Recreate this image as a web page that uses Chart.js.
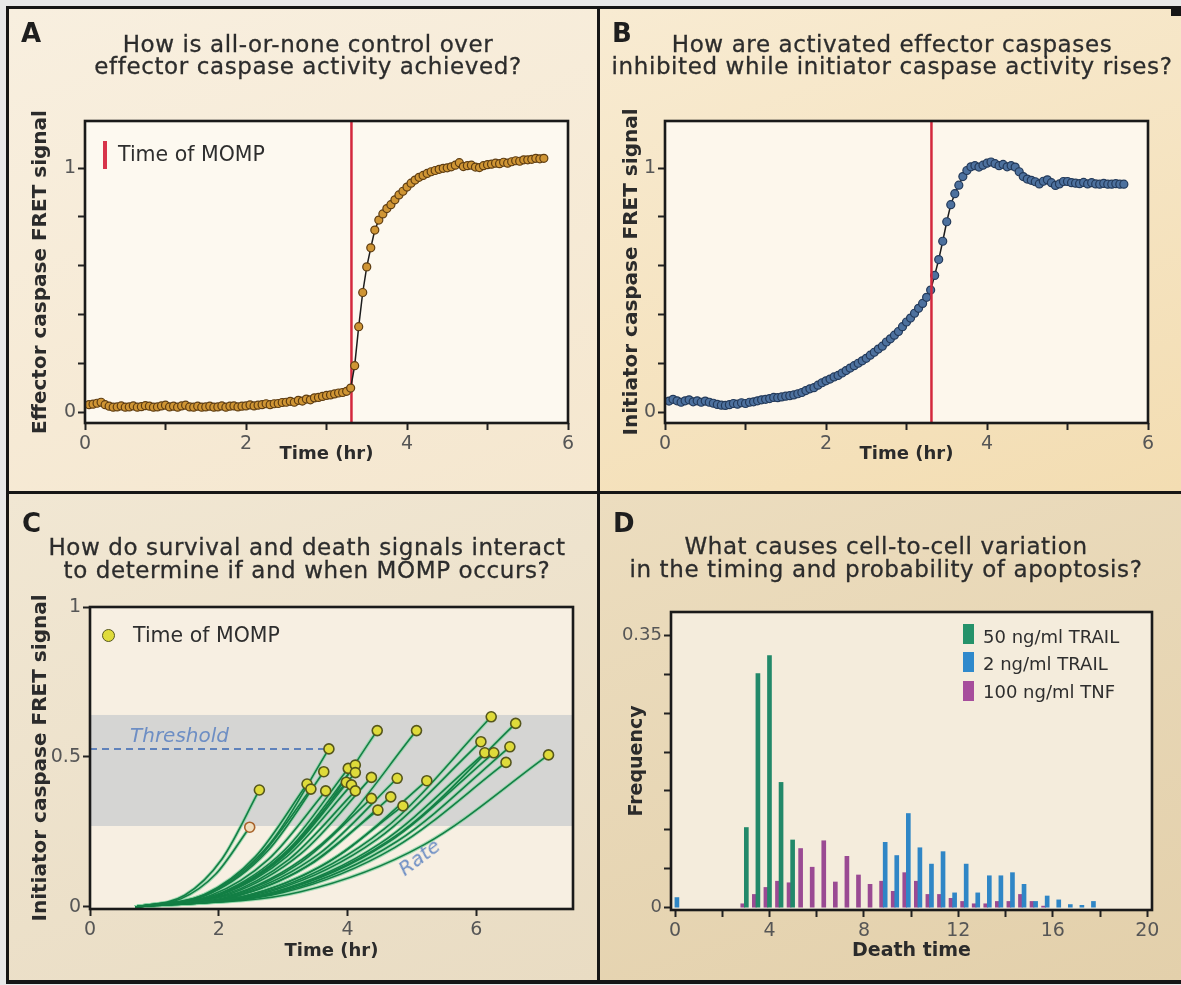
<!DOCTYPE html>
<html>
<head>
<meta charset="utf-8">
<title>Caspase activity and apoptosis timing</title>
<script src="https://cdn.jsdelivr.net/npm/chart.js@4.4.1/dist/chart.umd.min.js"></script>
<style>
  html, body { margin:0; padding:0; }
  body { width:1181px; height:985px; position:relative; overflow:hidden; background:#e8e8e8; font-family:"DejaVu Sans", sans-serif; }
  .abs { position:absolute; }
  canvas { position:absolute; }
  .letter { position:absolute; font-weight:bold; font-size:26px; line-height:26px; color:#1e1e1e; }
  .qtitle { position:absolute; transform:translateX(-50%); text-align:center; white-space:nowrap; font-size:23px; line-height:22.5px; letter-spacing:0.6px; color:#2c2c2c; -webkit-text-stroke:0.3px #2c2c2c; }
  .legtxt { position:absolute; white-space:nowrap; font-size:20.5px; line-height:24px; color:#2e2e2e; }
  .legD { position:absolute; white-space:nowrap; font-size:18px; line-height:22px; color:#2e2e2e; }
  .note { position:absolute; white-space:nowrap; font-style:italic; font-size:20px; line-height:24px; color:#6d8ec4; }
</style>
</head>
<body>
<!-- frame and panel backgrounds -->
<div class="abs" style="left:6px;top:6px;width:1181px;height:978px;background:#161616"></div>
<div class="abs" style="left:9px;top:9px;width:588px;height:482px;background:linear-gradient(160deg,#f8efdf 0%,#f5e7cf 100%)"></div>
<div class="abs" style="left:600px;top:9px;width:581px;height:482px;background:linear-gradient(160deg,#f8ebd2 0%,#f3ddb2 100%)"></div>
<div class="abs" style="left:9px;top:494px;width:588px;height:486px;background:linear-gradient(160deg,#f1e7d3 0%,#e9dcc3 100%)"></div>
<div class="abs" style="left:600px;top:494px;width:581px;height:486px;background:linear-gradient(160deg,#ecddbf 0%,#e3d0ab 100%)"></div>
<div class="abs" style="left:1171px;top:6px;width:10px;height:10px;background:#161616"></div>

<canvas id="cA" width="598" height="492" style="left:0;top:0;width:598px;height:492px"></canvas>
<canvas id="cB" width="583" height="492" style="left:598px;top:0;width:583px;height:492px"></canvas>
<canvas id="cC" width="598" height="493" style="left:0;top:492px;width:598px;height:493px"></canvas>
<canvas id="cD" width="583" height="493" style="left:598px;top:492px;width:583px;height:493px"></canvas>

<!-- panel letters and questions -->
<div class="letter" style="left:21px;top:20px">A</div>
<div class="qtitle" style="left:308px;top:32.5px">How is all-or-none control over<br>effector caspase activity achieved?</div>
<div class="letter" style="left:612px;top:20px">B</div>
<div class="qtitle" style="left:892px;top:32.5px">How are activated effector caspases<br>inhibited while initiator caspase activity rises?</div>
<div class="letter" style="left:22px;top:510px">C</div>
<div class="qtitle" style="left:307px;top:536px">How do survival and death signals interact<br>to determine if and when MOMP occurs?</div>
<div class="letter" style="left:613px;top:510px">D</div>
<div class="qtitle" style="left:886px;top:535px">What causes cell-to-cell variation<br>in the timing and probability of apoptosis?</div>

<!-- legends / notes -->
<div class="abs" style="left:102.5px;top:140.5px;width:4.5px;height:28px;background:#d8344a"></div>
<div class="legtxt" style="left:118px;top:141.5px">Time of MOMP</div>

<div class="abs" style="left:101.8px;top:628.5px;width:13px;height:13px;box-sizing:border-box;border:1.6px solid #55561c;border-radius:50%;background:#dfdb3a"></div>
<div class="legtxt" style="left:133px;top:623.4px">Time of MOMP</div>
<div class="note" style="left:130px;top:723.4px">Threshold</div>
<div class="note" style="left:419px;top:857px;transform:translate(-50%,-50%) rotate(-37deg)">Rate</div>

<div class="abs" style="left:963px;top:623.5px;width:11px;height:20px;background:#25926a"></div>
<div class="legD" style="left:983px;top:626px">50 ng/ml TRAIL</div>
<div class="abs" style="left:963px;top:652px;width:11px;height:20px;background:#2f89cc"></div>
<div class="legD" style="left:983px;top:652.6px">2 ng/ml TRAIL</div>
<div class="abs" style="left:963px;top:680.5px;width:11px;height:20px;background:#a64d9c"></div>
<div class="legD" style="left:983px;top:681px">100 ng/ml TNF</div>

<script>
// ---------------- data ----------------
const timeHr = [
  0.05,0.10,0.15,0.20,0.25,0.30,0.35,0.40,0.45,0.50,
  0.55,0.60,0.65,0.70,0.75,0.80,0.85,0.90,0.95,1.00,
  1.05,1.10,1.15,1.20,1.25,1.30,1.35,1.40,1.45,1.50,
  1.55,1.60,1.65,1.70,1.75,1.80,1.85,1.90,1.95,2.00,
  2.05,2.10,2.15,2.20,2.25,2.30,2.35,2.40,2.45,2.50,
  2.55,2.60,2.65,2.70,2.75,2.80,2.85,2.90,2.95,3.00,
  3.05,3.10,3.15,3.20,3.25,3.30,3.35,3.40,3.45,3.50,
  3.55,3.60,3.65,3.70,3.75,3.80,3.85,3.90,3.95,4.00,
  4.05,4.10,4.15,4.20,4.25,4.30,4.35,4.40,4.45,4.50,
  4.55,4.60,4.65,4.70,4.75,4.80,4.85,4.90,4.95,5.00,
  5.05,5.10,5.15,5.20,5.25,5.30,5.35,5.40,5.45,5.50,
  5.55,5.60,5.65,5.70
];
const effectorFret = [
  0.030,0.032,0.036,0.040,0.030,0.024,0.020,0.021,0.025,0.020,
  0.021,0.025,0.020,0.022,0.026,0.024,0.020,0.021,0.025,0.028,
  0.021,0.024,0.020,0.025,0.028,0.021,0.020,0.024,0.020,0.021,
  0.024,0.020,0.021,0.025,0.020,0.024,0.025,0.021,0.024,0.025,
  0.029,0.025,0.028,0.030,0.034,0.030,0.034,0.035,0.039,0.040,
  0.044,0.040,0.048,0.045,0.053,0.050,0.058,0.060,0.064,0.068,
  0.070,0.074,0.078,0.080,0.085,0.098,0.190,0.350,0.490,0.595,
  0.673,0.746,0.787,0.812,0.834,0.850,0.870,0.890,0.905,0.922,
  0.938,0.951,0.962,0.970,0.978,0.985,0.990,0.995,0.999,1.001,
  1.005,1.012,1.022,1.006,1.010,1.012,1.004,1.002,1.010,1.014,
  1.016,1.020,1.018,1.024,1.020,1.026,1.030,1.028,1.034,1.034,
  1.036,1.040,1.038,1.040
];
const initiatorFret = [
  0.045,0.052,0.046,0.040,0.046,0.050,0.042,0.046,0.040,0.045,
  0.040,0.036,0.031,0.028,0.027,0.030,0.035,0.032,0.038,0.035,
  0.040,0.042,0.046,0.050,0.052,0.055,0.060,0.059,0.062,0.065,
  0.067,0.070,0.075,0.080,0.088,0.095,0.100,0.110,0.120,0.128,
  0.135,0.144,0.150,0.160,0.170,0.180,0.190,0.200,0.210,0.220,
  0.233,0.245,0.258,0.270,0.287,0.300,0.315,0.330,0.350,0.369,
  0.385,0.405,0.425,0.445,0.470,0.500,0.560,0.625,0.700,0.780,
  0.850,0.895,0.930,0.965,0.990,1.005,1.010,1.004,1.012,1.020,
  1.025,1.018,1.010,1.015,1.005,1.010,1.004,0.985,0.965,0.955,
  0.950,0.944,0.935,0.946,0.952,0.940,0.929,0.935,0.945,0.945,
  0.940,0.938,0.936,0.941,0.935,0.940,0.935,0.934,0.937,0.934,
  0.934,0.936,0.934,0.934
];
const mompTimeHr = 3.31;

// panel C: single-cell initiator caspase trajectories (last point = time of MOMP)
const curveTimes = [
  [0.70,1.41,1.95,2.48],[0.70,1.47,2.05,2.63],[0.70,1.90,2.81,3.71],[0.70,1.77,2.57,3.37],
  [0.70,1.79,2.61,3.43],[0.70,1.87,2.75,3.63],[0.70,1.88,2.77,3.66],[0.70,2.20,3.33,4.46],
  [0.70,2.45,3.76,5.07],[0.70,2.02,3.02,4.01],[0.70,2.07,3.09,4.12],[0.70,2.07,3.09,4.12],
  [0.70,2.01,3.00,3.98],[0.70,2.04,3.05,4.06],[0.70,2.07,3.09,4.12],[0.70,2.17,3.27,4.37],
  [0.70,2.33,3.55,4.77],[0.70,2.51,3.87,5.23],[0.70,2.17,3.27,4.37],[0.70,2.29,3.48,4.67],
  [0.70,2.21,3.34,4.47],[0.70,2.36,3.61,4.86],[0.70,2.91,4.57,6.23],[0.70,3.06,4.84,6.61],
  [0.70,2.85,4.46,6.07],[0.70,2.87,4.50,6.13],[0.70,2.93,4.60,6.27],[0.70,3.03,4.77,6.52],
  [0.70,3.00,4.73,6.46],[0.70,3.27,5.19,7.12]
];
const curveSignals = [
  [0,0.027,0.109,0.266],[0,0.039,0.160,0.390],[0,0.053,0.216,0.527],[0,0.041,0.168,0.410],
  [0,0.039,0.161,0.393],[0,0.045,0.185,0.451],[0,0.039,0.159,0.387],[0,0.059,0.241,0.588],
  [0,0.059,0.241,0.588],[0,0.046,0.189,0.462],[0,0.047,0.194,0.473],[0,0.045,0.184,0.448],
  [0,0.042,0.171,0.416],[0,0.041,0.167,0.407],[0,0.039,0.159,0.387],[0,0.043,0.177,0.432],
  [0,0.043,0.176,0.429],[0,0.042,0.173,0.421],[0,0.036,0.148,0.362],[0,0.037,0.150,0.367],
  [0,0.032,0.132,0.323],[0,0.034,0.138,0.337],[0,0.063,0.260,0.634],[0,0.061,0.251,0.612],
  [0,0.055,0.226,0.551],[0,0.051,0.211,0.514],[0,0.051,0.211,0.514],[0,0.053,0.219,0.534],
  [0,0.048,0.198,0.482],[0,0.051,0.208,0.507]
];
const thresholdSignal = 0.527;
const thresholdEndHr = 3.71;
const thresholdBand = [0.27, 0.64];

// panel D: death-time histogram
const deathTimeBins = [0.25,0.74,1.23,1.72,2.21,2.70,3.19,3.68,4.17,4.66,5.15,5.64,6.13,6.62,7.11,7.60,8.09,8.58,9.07,9.56,
  10.05,10.54,11.03,11.52,12.01,12.50,12.99,13.48,13.97,14.46,14.95,15.44,15.93,16.42,16.91,17.40,17.89];
const trail50 = [0,0,0,0,0,0,0.103,0.301,0.324,0.161,0.087,0,0,0,0,0,0,0,0,0,
  0,0,0,0,0,0,0,0,0,0,0,0,0,0,0,0,0];
const trail2 = [0.013,0,0,0,0,0,0,0,0,0,0,0,0,0,0,0,0,0,0.084,0.067,
  0.121,0.077,0.056,0.072,0.019,0.056,0.019,0.041,0.041,0.045,0.030,0.008,0.015,0.010,0.004,0.003,0.008];
const tnf100 = [0,0,0,0,0,0.005,0.017,0.026,0.034,0.032,0.076,0.052,0.086,0.033,0.066,0.042,0.030,0.034,0.021,0.045,
  0.034,0.017,0.017,0.012,0.008,0.005,0.005,0.008,0.008,0.017,0.008,0.002,0,0,0,0,0];

// tick values and labels
const timeTicks = [0,1,2,3,4,5,6], timeTickLabels = [0,2,4,6];
const fretTicks = [0,0.2,0.4,0.6,0.8,1], fretTickLabels = [0,1];
const timeTicksC = [0,2,4,6];
const fretTicksC = [0,0.5,1];
const deathTicks = [0,2,4,6,8,10,12,14,16,18,20], deathTickLabels = [0,4,8,12,16,20];
const freqTicks = [0,0.05,0.1,0.15,0.2,0.25,0.3,0.35], freqTickLabels = [0,0.35];

// ---------------- helpers ----------------
Chart.defaults.font.family = '"DejaVu Sans", sans-serif';

function makeScale(o) {
  return {
    type: 'linear', min: o.min, max: o.max, offset: false, stacked: false,
    afterBuildTicks: ax => { ax.ticks = o.ticks.map(v => ({ value: v })); },
    afterFit: ax => { if (o.axis === 'y') ax.width = o.size; else ax.height = o.size; },
    grid: { display: true, offset: false, drawOnChartArea: false, drawTicks: true, tickLength: 7, tickColor: '#222', tickWidth: 2 },
    border: { display: false },
    ticks: {
      autoSkip: false, maxRotation: 0, padding: o.axis === 'y' ? 2 : 3, color: '#565656',
      font: { size: o.tickSize || 19 },
      callback: v => (o.labels.includes(v) ? String(v) : '')
    },
    title: { display: true, text: o.title, color: '#2b2b2b',
      font: { size: o.titleSize, weight: 'bold' }, padding: { top: 4, bottom: 4 } }
  };
}

const plotFrame = {
  id: 'plotFrame',
  beforeDraw(chart, args, opts) {
    const { ctx, chartArea: a } = chart;
    ctx.save(); ctx.fillStyle = opts.fill;
    ctx.fillRect(a.left, a.top, a.right - a.left, a.bottom - a.top); ctx.restore();
  },
  afterDraw(chart, args, opts) {
    const { ctx, chartArea: a } = chart;
    ctx.save(); ctx.strokeStyle = '#1a1a1a'; ctx.lineWidth = 2.6;
    ctx.strokeRect(a.left, a.top, a.right - a.left, a.bottom - a.top); ctx.restore();
  }
};

function drawMomp(chart, opts) {
  const { ctx, chartArea: a, scales: { x } } = chart;
  const px = x.getPixelForValue(opts.time);
  ctx.save(); ctx.strokeStyle = '#d3283d'; ctx.lineWidth = 2.5;
  ctx.beginPath(); ctx.moveTo(px, a.top); ctx.lineTo(px, a.bottom); ctx.stroke(); ctx.restore();
}
const mompLine = {
  id: 'mompLine',
  beforeDatasetsDraw(chart, args, opts) { if (opts.under) drawMomp(chart, opts); },
  afterDatasetsDraw(chart, args, opts) { if (!opts.under) drawMomp(chart, opts); }
};

const thresholdMarks = {
  id: 'thresholdMarks',
  beforeDatasetsDraw(chart) {
    const { ctx, chartArea: a, scales: { x, y } } = chart;
    const y1 = y.getPixelForValue(thresholdBand[1]), y0 = y.getPixelForValue(thresholdBand[0]);
    ctx.save();
    ctx.fillStyle = 'rgba(186,192,198,0.55)';
    ctx.fillRect(a.left, y1, a.right - a.left, y0 - y1);
    const ty = y.getPixelForValue(thresholdSignal);
    ctx.strokeStyle = '#5f82bb'; ctx.lineWidth = 2; ctx.setLineDash([7, 5]);
    ctx.beginPath(); ctx.moveTo(a.left, ty); ctx.lineTo(x.getPixelForValue(thresholdEndHr), ty); ctx.stroke();
    ctx.restore();
  }
};

const common = pad => ({
  responsive: false, animation: false, devicePixelRatio: 1, events: [],
  layout: { padding: pad }
});

// ---------------- panel A ----------------
new Chart(document.getElementById('cA'), {
  type: 'line',
  data: { datasets: [{
    data: timeHr.map((t, i) => ({ x: t, y: effectorFret[i] })),
    borderColor: '#1c1c1c', borderWidth: 1.5, tension: 0,
    pointRadius: 4, pointBorderWidth: 1.2, pointBackgroundColor: '#cf9534', pointBorderColor: '#5e3d12'
  }]},
  options: Object.assign(common({ top: 121, left: 25, right: 30, bottom: 23 }), {
    plugins: { legend: { display: false }, tooltip: { enabled: false },
      plotFrame: { fill: '#fdf9f0' }, mompLine: { time: mompTimeHr, under: true } },
    scales: {
      x: makeScale({ axis: 'x', min: 0, max: 6, ticks: timeTicks, labels: timeTickLabels, title: 'Time (hr)', titleSize: 18, size: 46 }),
      y: makeScale({ axis: 'y', min: -0.045, max: 1.193, ticks: fretTicks, labels: fretTickLabels, title: 'Effector caspase FRET signal', titleSize: 20, size: 60 })
    }
  }),
  plugins: [plotFrame, mompLine]
});

// ---------------- panel B ----------------
new Chart(document.getElementById('cB'), {
  type: 'line',
  data: { datasets: [{
    data: timeHr.map((t, i) => ({ x: t, y: initiatorFret[i] })),
    borderColor: '#1c1c1c', borderWidth: 1.5, tension: 0,
    pointRadius: 4, pointBorderWidth: 1.2, pointBackgroundColor: '#4d719e', pointBorderColor: '#233a5a'
  }]},
  options: Object.assign(common({ top: 121, left: 18, right: 33, bottom: 23 }), {
    plugins: { legend: { display: false }, tooltip: { enabled: false },
      plotFrame: { fill: '#fdf7ec' }, mompLine: { time: mompTimeHr, under: false } },
    scales: {
      x: makeScale({ axis: 'x', min: 0, max: 6, ticks: timeTicks, labels: timeTickLabels, title: 'Time (hr)', titleSize: 18, size: 46 }),
      y: makeScale({ axis: 'y', min: -0.045, max: 1.193, ticks: fretTicks, labels: fretTickLabels, title: 'Initiator caspase FRET signal', titleSize: 20, size: 49 })
    }
  }),
  plugins: [plotFrame, mompLine]
});

// ---------------- panel C ----------------
const haloSets = curveTimes.map((ts, c) => ({
  data: ts.map((t, i) => ({ x: t, y: curveSignals[c][i] })),
  borderColor: 'rgba(140,212,165,0.75)', borderWidth: 3.6, pointRadius: 0,
  cubicInterpolationMode: 'monotone', order: 3
}));
const curveSets = curveTimes.map((ts, c) => ({
  data: ts.map((t, i) => ({ x: t, y: curveSignals[c][i] })),
  borderColor: '#137f45', borderWidth: 1.6, pointRadius: 0,
  cubicInterpolationMode: 'monotone', order: 2
}));
const mompPoints = {
  data: curveTimes.map((ts, c) => ({ x: ts[ts.length - 1], y: curveSignals[c][ts.length - 1] })),
  showLine: false, pointRadius: 5, pointBorderWidth: 1.6,
  pointBackgroundColor: curveTimes.map((ts, c) => (c === 0 ? '#f1dfbf' : '#dfdb3a')),
  pointBorderColor: curveTimes.map((ts, c) => (c === 0 ? '#a8622a' : '#55561c')), order: 0
};
new Chart(document.getElementById('cC'), {
  type: 'line',
  data: { datasets: haloSets.concat(curveSets, [mompPoints]) },
  options: Object.assign(common({ top: 115, left: 25, right: 25, bottom: 19 }), {
    plugins: { legend: { display: false }, tooltip: { enabled: false }, plotFrame: { fill: '#f7efe2' } },
    scales: {
      x: makeScale({ axis: 'x', min: 0, max: 7.5, ticks: timeTicksC, labels: timeTicksC, title: 'Time (hr)', titleSize: 18, size: 57 }),
      y: makeScale({ axis: 'y', min: -0.0067, max: 1, ticks: fretTicksC, labels: fretTicksC, title: 'Initiator caspase FRET signal', titleSize: 20, size: 65 })
    }
  }),
  plugins: [plotFrame, thresholdMarks]
});

// ---------------- panel D ----------------
const barPoints = vals => deathTimeBins.map((t, i) => ({ x: t, y: vals[i] > 0 ? vals[i] : null }));
new Chart(document.getElementById('cD'), {
  type: 'bar',
  data: { datasets: [
    { label: '50 ng/ml TRAIL', data: barPoints(trail50),
      backgroundColor: '#22896a', stack: 'trail', barThickness: 4, order: 0 },
    { label: '2 ng/ml TRAIL', data: barPoints(trail2),
      backgroundColor: '#2f86c6', stack: 'trail', barThickness: 4, order: 1 },
    { label: '100 ng/ml TNF', data: barPoints(tnf100),
      backgroundColor: '#9a4a93', stack: 'tnf', barThickness: 4, order: 2 }
  ]},
  options: Object.assign(common({ top: 120, left: 24, right: 29, bottom: 19 }), {
    plugins: { legend: { display: false }, tooltip: { enabled: false }, plotFrame: { fill: '#f4ecdc' } },
    scales: {
      x: makeScale({ axis: 'x', min: -0.17, max: 20.2, ticks: deathTicks, labels: deathTickLabels, title: 'Death time', titleSize: 19, size: 56, tickSize: 19 }),
      y: makeScale({ axis: 'y', min: -0.003, max: 0.38, ticks: freqTicks, labels: freqTickLabels, title: 'Frequency', titleSize: 19, size: 49, tickSize: 18 })
    }
  }),
  plugins: [plotFrame]
});
</script>
</body>
</html>
